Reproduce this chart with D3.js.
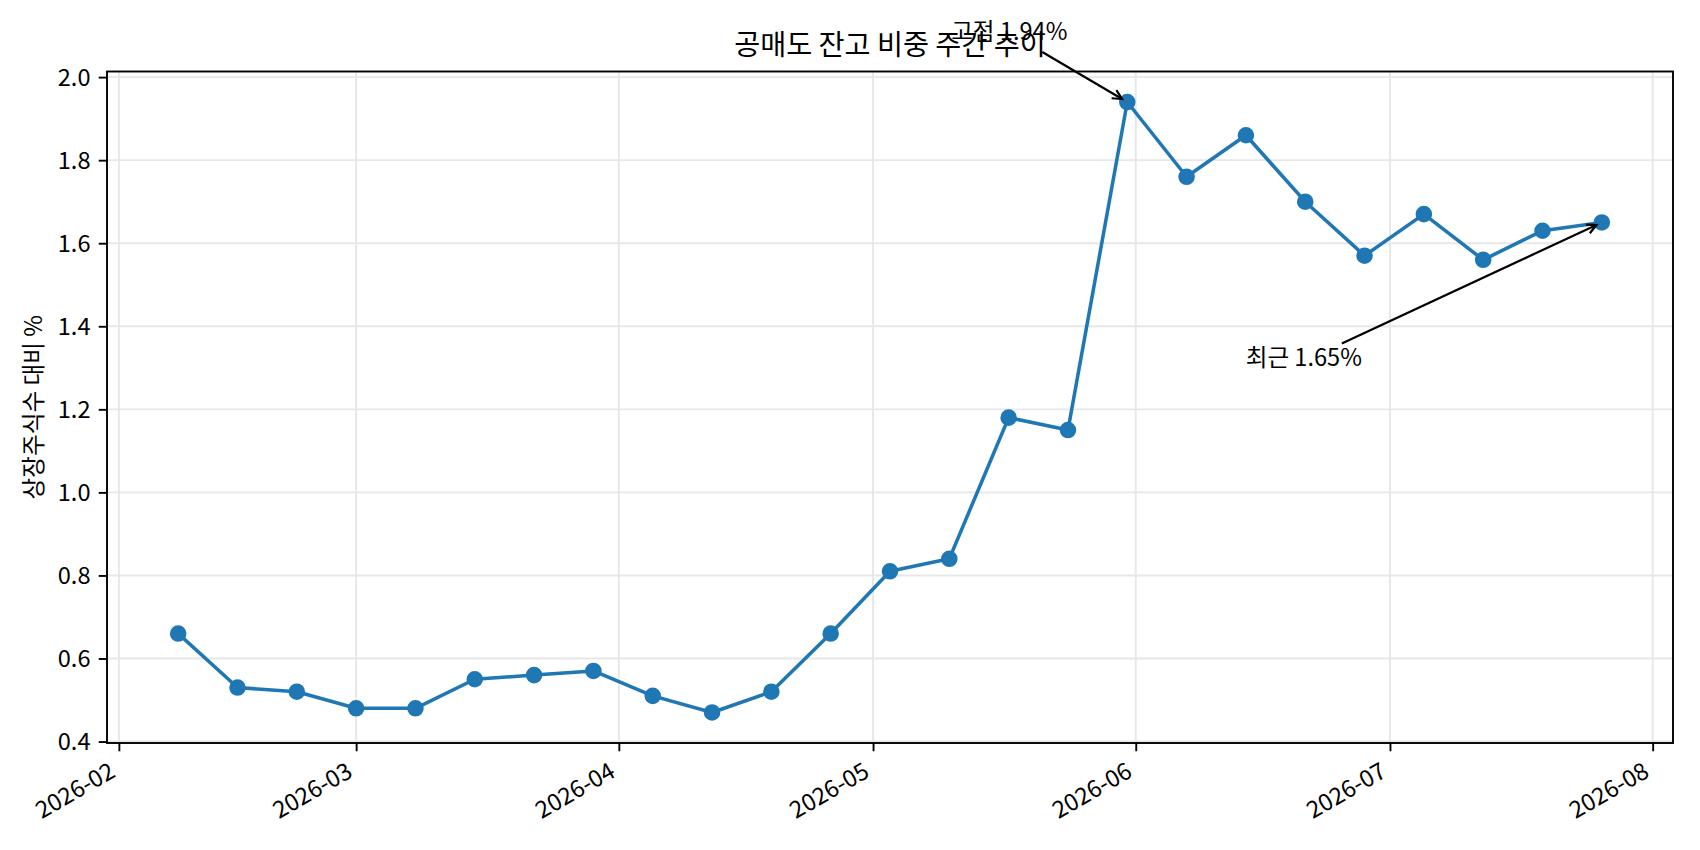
<!DOCTYPE html>
<html>
<head>
<meta charset="utf-8">
<script src="https://cdn.jsdelivr.net/npm/d3@7"></script>
<style>
  html, body { margin: 0; padding: 0; background: #fff; }
  svg { display: block; }
  text { font-family: "Noto Sans CJK KR", "Noto Sans", sans-serif; fill: #000; }
</style>
</head>
<body>
<script>
// ---- data ----
const weekDates = ["2026-02-08","2026-02-15","2026-02-22","2026-03-01","2026-03-08","2026-03-15","2026-03-22","2026-03-29",
  "2026-04-05","2026-04-12","2026-04-19","2026-04-26","2026-05-03","2026-05-10","2026-05-17","2026-05-24","2026-05-31",
  "2026-06-07","2026-06-14","2026-06-21","2026-06-28","2026-07-05","2026-07-12","2026-07-19","2026-07-26"];
const shortRatio = [0.66,0.53,0.52,0.48,0.48,0.55,0.56,0.57,0.51,0.47,0.52,0.66,0.81,0.84,1.18,1.15,1.94,1.76,1.86,1.70,1.57,1.67,1.56,1.63,1.65];
const yTicks = [0.4,0.6,0.8,1.0,1.2,1.4,1.6,1.8,2.0];
const xTickMonths = ["2026-02-01","2026-03-01","2026-04-01","2026-05-01","2026-06-01","2026-07-01","2026-08-01"];
const titleText = "공매도 잔고 비중 주간 추이";
const yLabelText = "상장주식수 대비 %";
const peakLabel = "고점 1.94%";
const lastLabel = "최근 1.65%";

// ---- layout ----
const W = 1700, H = 850;
const L = 107, R = 1673, T = 71.5, B = 743;
const FS = 23.6, TFS = 28.3;
const C0 = "#1f77b4";
const gridColor = "#e7e7e7";

const parse = s => new Date(s + "T00:00:00Z");
const pts = weekDates.map((d, i) => ({ d: parse(d), v: shortRatio[i] }));

const dayMs = 86400000;
const dMin = d3.min(pts, p => p.d), dMax = d3.max(pts, p => p.d);
const dPad = (dMax - dMin) * 0.05;
const x = d3.scaleUtc().domain([new Date(+dMin - dPad), new Date(+dMax + dPad)]).range([L, R]);
const vMin = d3.min(shortRatio), vMax = d3.max(shortRatio);
const vPad = (vMax - vMin) * 0.05;
const y = d3.scaleLinear().domain([vMin - vPad, vMax + vPad]).range([B, T]);

const svg = d3.select("body").append("svg").attr("width", W).attr("height", H);
svg.append("rect").attr("width", W).attr("height", H).attr("fill", "#fff");

const xTickDates = xTickMonths.map(parse);

// grid
const grid = svg.append("g");
grid.selectAll(".gx").data(xTickDates).join("line")
  .attr("x1", d => x(d)).attr("x2", d => x(d)).attr("y1", T).attr("y2", B)
  .attr("stroke", gridColor).attr("stroke-width", 1.9);
grid.selectAll(".gy").data(yTicks).join("line")
  .attr("x1", L).attr("x2", R).attr("y1", d => y(d)).attr("y2", d => y(d))
  .attr("stroke", gridColor).attr("stroke-width", 1.9);

// line + markers
const clip = svg.append("defs").append("clipPath").attr("id", "clip")
  .append("rect").attr("x", L).attr("y", T).attr("width", R - L).attr("height", B - T);
const plot = svg.append("g");
plot.append("path").datum(pts)
  .attr("d", d3.line().x(p => x(p.d)).y(p => y(p.v)))
  .attr("fill", "none").attr("stroke", C0).attr("stroke-width", 3.54)
  .attr("stroke-linejoin", "round").attr("stroke-linecap", "square");
plot.selectAll("circle").data(pts).join("circle")
  .attr("cx", p => x(p.d)).attr("cy", p => y(p.v)).attr("r", 7.1)
  .attr("fill", C0).attr("stroke", C0).attr("stroke-width", 2.36);

// axes via d3
const yAxis = d3.axisLeft(y).tickValues(yTicks).tickFormat(d3.format(".1f")).tickSize(8.26).tickPadding(8.26);
const gy = svg.append("g").attr("transform", `translate(${L},0)`).call(yAxis);
gy.select(".domain").remove();
gy.selectAll(".tick line").attr("stroke", "#000").attr("stroke-width", 1.9);
gy.selectAll(".tick text").attr("font-size", FS).attr("font-family", null).attr("dy", "0.35em");

const xAxis = d3.axisBottom(x).tickValues(xTickDates).tickFormat(d3.utcFormat("%Y-%m")).tickSize(8.26).tickPadding(8.26);
const gx = svg.append("g").attr("transform", `translate(0,${B})`).call(xAxis);
gx.select(".domain").remove();
gx.selectAll(".tick line").attr("stroke", "#000").attr("stroke-width", 1.9);
// rotate labels 30deg, right/top aligned like matplotlib
const labelTop = 8.26 + 8.26;
gx.selectAll(".tick text").each(function () {
  const t = d3.select(this);
  t.attr("font-size", FS).attr("font-family", null).attr("dy", null).attr("y", 0).attr("x", 0)
   .attr("text-anchor", "end");
  const A = FS * 0.80, D = FS * 0.22;
  const tx = -0.5 * D, ty = labelTop + 0.866 * A;
  t.attr("transform", `translate(${tx},${ty}) rotate(-30)`);
});

// spines
svg.append("rect").attr("x", L).attr("y", T).attr("width", R - L).attr("height", B - T)
  .attr("fill", "none").attr("stroke", "#000").attr("stroke-width", 1.9);

// title
svg.append("text").attr("x", (L + R) / 2).attr("y", 55).attr("text-anchor", "middle")
  .attr("font-size", TFS).text(titleText);

// y label
svg.append("text").attr("transform", `translate(42,${(T + B) / 2}) rotate(-90)`)
  .attr("text-anchor", "middle").attr("font-size", FS).text(yLabelText);

// annotations
function arrow(fromX, fromY, toX, toY) {
  const dx = toX - fromX, dy = toY - fromY, len = Math.hypot(dx, dy);
  const ux = dx / len, uy = dy / len;
  const shrink = 6;
  const ex = toX - ux * shrink, ey = toY - uy * shrink;
  const hl = 9.4, hw = 4.7;
  const bx = ex - ux * hl, by = ey - uy * hl;
  const px = -uy, py = ux;
  const g = svg.append("g").attr("stroke", "#000").attr("stroke-width", 2.2).attr("fill", "none")
    .attr("stroke-linecap", "butt");
  g.append("line").attr("x1", fromX).attr("y1", fromY).attr("x2", ex).attr("y2", ey);
  g.append("path").attr("d", `M${bx + px * hw},${by + py * hw}L${ex},${ey}L${bx - px * hw},${by - py * hw}`);
}

const peakIdx = shortRatio.indexOf(vMax);
const peak = pts[peakIdx];
const ppx = x(peak.d), ppy = y(peak.v);
svg.append("text").attr("x", ppx - 118).attr("y", ppy - 62.5).attr("text-anchor", "middle")
  .attr("font-size", FS).text(peakLabel);
arrow(ppx - 85, ppy - 50, ppx, ppy);

const last = pts[pts.length - 1];
const lpx = x(last.d), lpy = y(last.v);
svg.append("text").attr("x", lpx - 298).attr("y", lpy + 144).attr("text-anchor", "middle")
  .attr("font-size", FS).text(lastLabel);
arrow(lpx - 260, lpy + 121, lpx, lpy);
</script>
</body>
</html>
